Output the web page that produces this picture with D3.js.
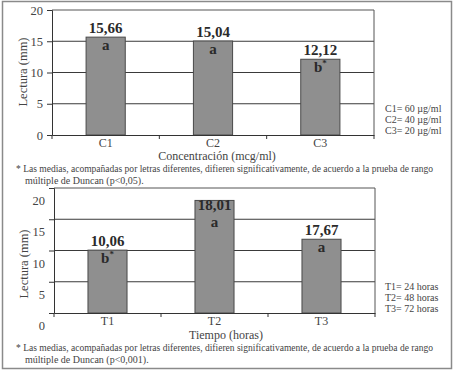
<!DOCTYPE html>
<html><head><meta charset="utf-8">
<script src="https://cdn.jsdelivr.net/npm/d3@7"></script>
<style>body{margin:0;background:#fff}svg{display:block}</style>
</head><body><svg id="c" width="454" height="373"></svg>
<script>
// ---- data ----
const concCategories = ["C1", "C2", "C3"];
const concValues = [15.66, 15.04, 12.12];
const concValueLabels = ["15,66", "15,04", "12,12"];
const concLetters = ["a", "a", "b"];
const concStars = [false, false, true];
const concLegend = ["C1= 60 µg/ml", "C2= 40 µg/ml", "C3= 20 µg/ml"];
const concTitle = "Concentración  (mcg/ml)";

const tiempoCategories = ["T1", "T2", "T3"];
const tiempoValues = [10.06, 18.01, 11.8];
const tiempoValueLabels = ["10,06", "18,01", "17,67"];
const tiempoLetters = ["b", "a", "a"];
const tiempoStars = [true, false, false];
const tiempoLegend = ["T1= 24 horas", "T2= 48 horas", "T3= 72 horas"];
const tiempoTitle = "Tiempo  (horas)";

const yTicks = [0, 5, 10, 15, 20];
const yLabel = "Lectura (mm)";
const footnoteLine1 = "* Las medias, acompañadas por letras diferentes, difieren significativamente, de acuerdo a la prueba de rango";
const footnoteConc = "múltiple de Duncan (p<0,05).";
const footnoteTiempo = "múltiple de Duncan (p<0,001).";

// ---- drawing ----
const svg = d3.select("#c");
const FONT = "'Liberation Serif','Times New Roman','DejaVu Serif',serif";

svg.append("rect").attr("x", 0).attr("y", 0).attr("width", 454).attr("height", 373).attr("fill", "#fff");
svg.append("rect").attr("x", 2.5).attr("y", 1.5).attr("width", 449).attr("height", 367)
  .attr("fill", "none").attr("stroke", "#8a8a8a").attr("stroke-width", 1.5);

function panel(o) {
  const g = svg.append("g");
  const x = d3.scaleBand().domain(o.cats).range([o.left, o.right]).padding(0);
  const y = d3.scaleLinear().domain([0, 20]).range([o.bottom, o.top]);
  const bw = x.bandwidth() * 0.365;

  // gridlines
  g.selectAll(".grid").data(yTicks.filter(t => t > 0 && t < 20)).join("line")
    .attr("x1", o.left).attr("x2", o.right)
    .attr("y1", d => y(d)).attr("y2", d => y(d))
    .attr("stroke", "#3a3a3a").attr("stroke-width", 1);

  // plot box (top & right)
  g.append("path")
    .attr("d", `M${o.left},${o.top}H${o.right}V${o.bottom}`)
    .attr("fill", "none").attr("stroke", "#555").attr("stroke-width", 1);

  // bars
  g.selectAll(".bar").data(o.values).join("rect")
    .attr("x", (d, i) => x(o.cats[i]) + x.bandwidth() / 2 - bw / 2)
    .attr("width", bw)
    .attr("y", d => y(d))
    .attr("height", d => y(0) - y(d))
    .attr("fill", "#8f8f8f").attr("stroke", "#4a4a4a").attr("stroke-width", 1);

  // y axis
  const ya = g.append("g").attr("transform", `translate(${o.left},0)`)
    .call(d3.axisLeft(y).tickValues(yTicks).tickSize(5).tickPadding(4));
  ya.select(".domain").attr("stroke", "#333");
  ya.selectAll(".tick line").attr("stroke", "#333");
  ya.selectAll(".tick text").attr("font-family", FONT).attr("font-size", 12.5)
    .attr("fill", "#444").attr("dy", (0.32 + o.labelShift / 12.5) + "em");

  // x axis
  const xa = g.append("g").attr("transform", `translate(0,${o.bottom})`)
    .call(d3.axisBottom(x).tickSize(0).tickPadding(3));
  xa.select(".domain").attr("stroke", "#333");
  xa.selectAll(".tick text").attr("font-family", FONT).attr("font-size", 12)
    .attr("fill", "#444");
  // x ticks at band boundaries
  const bounds = o.cats.map(c => x(c)).concat([o.right]);
  g.selectAll(".xt").data(bounds).join("line")
    .attr("x1", d => d).attr("x2", d => d)
    .attr("y1", o.bottom).attr("y2", o.bottom + 4)
    .attr("stroke", "#333");

  // value labels and letters
  o.values.forEach((v, i) => {
    const cx = x(o.cats[i]) + x.bandwidth() / 2;
    const top = y(v);
    const inside = top - 16 < o.top;
    const numBase = inside ? top + 10 : top - 4;
    const letBase = inside ? top + 27 : top + 13;
    g.append("text").attr("x", cx).attr("y", numBase).attr("text-anchor", "middle")
      .attr("font-family", FONT).attr("font-weight", "bold").attr("font-size", 15)
      .attr("fill", "#2a2a2a").text(o.valueLabels[i]);
    const t = g.append("text").attr("x", cx).attr("y", letBase).attr("text-anchor", "middle")
      .attr("font-family", FONT).attr("font-weight", "bold").attr("font-size", 15)
      .attr("fill", "#2a2a2a");
    t.append("tspan").text(o.letters[i]);
    if (o.stars[i]) t.append("tspan").attr("font-size", 9).attr("dy", -6).text("*");
  });

  // y label
  g.append("text")
    .attr("transform", `translate(${o.yLabelX},${o.yLabelY}) rotate(-90)`)
    .attr("text-anchor", "middle").attr("font-family", FONT).attr("font-size", 12.5)
    .attr("fill", "#444").text(yLabel);

  // x title
  g.append("text").attr("x", o.titleX).attr("y", o.titleY).attr("text-anchor", "middle")
    .attr("font-family", FONT).attr("font-size", 12).attr("fill", "#444").text(o.title);

  // legend
  g.selectAll(".leg").data(o.legend).join("text")
    .attr("x", 385).attr("y", (d, i) => o.legendY + i * 11)
    .attr("font-family", FONT).attr("font-size", 10).attr("fill", "#444").text(d => d);

  // footnote
  g.append("text").attr("x", 16).attr("y", o.footY)
    .attr("font-family", FONT).attr("font-size", 10).attr("fill", "#444")
    .attr("textLength", 417).attr("lengthAdjust", "spacingAndGlyphs").text(footnoteLine1);
  g.append("text").attr("x", 25).attr("y", o.footY + 11.5)
    .attr("font-family", FONT).attr("font-size", 10).attr("fill", "#444").text(o.foot2);
}

panel({
  cats: concCategories, values: concValues, valueLabels: concValueLabels,
  letters: concLetters, stars: concStars, legend: concLegend, title: concTitle,
  left: 52, right: 374, top: 10, bottom: 135, labelShift: 0,
  yLabelX: 27, yLabelY: 72, titleX: 217, titleY: 159.5, legendY: 112,
  footY: 172, foot2: footnoteConc
});

panel({
  cats: tiempoCategories, values: tiempoValues, valueLabels: tiempoValueLabels,
  letters: tiempoLetters, stars: tiempoStars, legend: tiempoLegend, title: tiempoTitle,
  left: 54, right: 375, top: 188, bottom: 313, labelShift: 12.5,
  yLabelX: 28, yLabelY: 264, titleX: 226, titleY: 338.5, legendY: 290,
  footY: 351, foot2: footnoteTiempo
});
</script>
</body></html>
